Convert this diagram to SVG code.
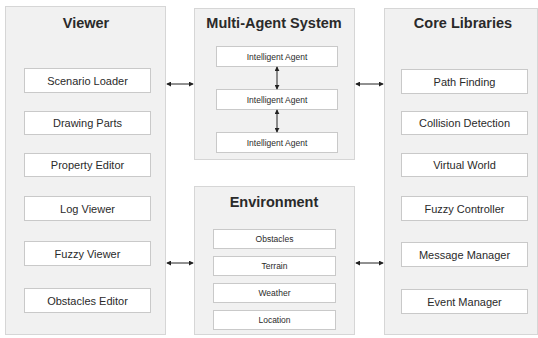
<svg xmlns="http://www.w3.org/2000/svg" width="538" height="338" viewBox="0 0 538 338">
<defs>
<style>
.panel{fill:#f1f1f1;stroke:#d6d6d6;stroke-width:1}
.box{fill:#ffffff;stroke:#c9c9c9;stroke-width:1}
.title{font-family:"Liberation Sans",Arial,sans-serif;font-weight:bold;font-size:14.5px;fill:#2a2a2a;text-anchor:middle}
.lbl{font-family:"Liberation Sans",Arial,sans-serif;font-size:11px;fill:#2a2a2a;text-anchor:middle}
.sm{font-family:"Liberation Sans",Arial,sans-serif;font-size:8.5px;fill:#2a2a2a;text-anchor:middle}
.conn{stroke:#222;stroke-width:1;fill:none;marker-start:url(#ah);marker-end:url(#ah)}
</style>
<marker id="ah" viewBox="0 0 6 6" refX="5" refY="3" markerWidth="5" markerHeight="5" orient="auto-start-reverse" markerUnits="userSpaceOnUse">
<path d="M0,0 L6,3 L0,6 z" fill="#222"/>
</marker>
</defs>
<rect width="538" height="338" fill="#ffffff"/>
<g id="viewer">
<rect class="panel" x="5.5" y="6.5" width="160" height="328"/>
<text class="title" x="86" y="28">Viewer</text>
<g id="scenario-loader"><rect class="box" x="24.5" y="68.5" width="126" height="24"/><text class="lbl" x="87.5" y="84.5">Scenario Loader</text></g>
<g id="drawing-parts"><rect class="box" x="24.5" y="111.5" width="126" height="23"/><text class="lbl" x="87.5" y="127">Drawing Parts</text></g>
<g id="property-editor"><rect class="box" x="24.5" y="153.5" width="126" height="23"/><text class="lbl" x="87.5" y="169">Property Editor</text></g>
<g id="log-viewer"><rect class="box" x="24.5" y="196.5" width="126" height="24"/><text class="lbl" x="87.5" y="212.5">Log Viewer</text></g>
<g id="fuzzy-viewer"><rect class="box" x="24.5" y="241.5" width="126" height="24"/><text class="lbl" x="87.5" y="257.5">Fuzzy Viewer</text></g>
<g id="obstacles-editor"><rect class="box" x="24.5" y="288.5" width="126" height="24"/><text class="lbl" x="87.5" y="304.5">Obstacles Editor</text></g>
</g>
<g id="mas">
<rect class="panel" x="194.5" y="8.5" width="160" height="151"/>
<text class="title" x="274" y="28">Multi-Agent System</text>
<g id="agent1"><rect class="box" x="216.5" y="46.5" width="121" height="20"/><text class="sm" x="277" y="59.5">Intelligent Agent</text></g>
<g id="agent2"><rect class="box" x="216.5" y="89.5" width="121" height="20"/><text class="sm" x="277" y="102.5">Intelligent Agent</text></g>
<g id="agent3"><rect class="box" x="216.5" y="132.5" width="121" height="20"/><text class="sm" x="277" y="145.5">Intelligent Agent</text></g>
</g>
<g id="environment">
<rect class="panel" x="194.5" y="186.5" width="160" height="148"/>
<text class="title" x="274" y="207">Environment</text>
<g id="obstacles"><rect class="box" x="213.5" y="229.5" width="122" height="19"/><text class="sm" x="274.5" y="242">Obstacles</text></g>
<g id="terrain"><rect class="box" x="213.5" y="256.5" width="122" height="19"/><text class="sm" x="274.5" y="269">Terrain</text></g>
<g id="weather"><rect class="box" x="213.5" y="283.5" width="122" height="19"/><text class="sm" x="274.5" y="296">Weather</text></g>
<g id="location"><rect class="box" x="213.5" y="310.5" width="122" height="19"/><text class="sm" x="274.5" y="323">Location</text></g>
</g>
<g id="core">
<rect class="panel" x="384.5" y="8.5" width="153" height="326"/>
<text class="title" x="463" y="28">Core Libraries</text>
<g id="path-finding"><rect class="box" x="401.5" y="69.5" width="126" height="24"/><text class="lbl" x="464.5" y="85.5">Path Finding</text></g>
<g id="collision-detection"><rect class="box" x="401.5" y="111.5" width="126" height="23"/><text class="lbl" x="464.5" y="127">Collision Detection</text></g>
<g id="virtual-world"><rect class="box" x="401.5" y="153.5" width="126" height="23"/><text class="lbl" x="464.5" y="169">Virtual World</text></g>
<g id="fuzzy-controller"><rect class="box" x="401.5" y="196.5" width="126" height="24"/><text class="lbl" x="464.5" y="212.5">Fuzzy Controller</text></g>
<g id="message-manager"><rect class="box" x="401.5" y="242.5" width="126" height="24"/><text class="lbl" x="464.5" y="258.5">Message Manager</text></g>
<g id="event-manager"><rect class="box" x="401.5" y="289.5" width="126" height="24"/><text class="lbl" x="464.5" y="305.5">Event Manager</text></g>
</g>
<g id="connectors">
<line class="conn" x1="167" y1="84" x2="193" y2="84"/>
<line class="conn" x1="356" y1="84" x2="383" y2="84"/>
<line class="conn" x1="167" y1="263" x2="193" y2="263"/>
<line class="conn" x1="356" y1="263" x2="383" y2="263"/>
<line class="conn" x1="277" y1="67" x2="277" y2="89"/>
<line class="conn" x1="277" y1="110" x2="277" y2="132"/>
</g>
</svg>
